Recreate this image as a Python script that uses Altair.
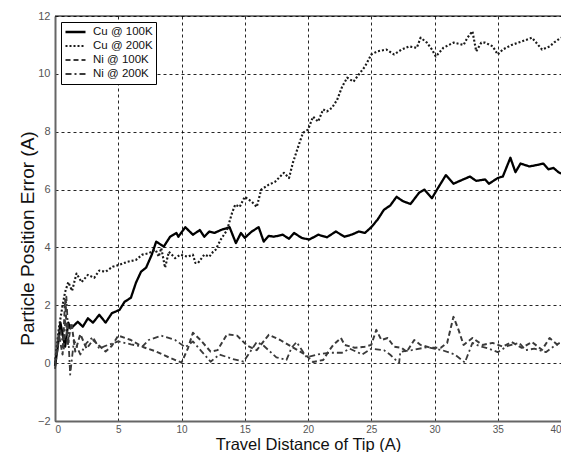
import altair as alt
import pandas as pd

series_names = ["Cu @ 100K", "Cu @ 200K", "Ni @ 100K", "Ni @ 200K"]

cu100 = [(0,-0.1),(0.2,0.5),(0.43,1.4),(0.6,1.0),(0.8,0.57),(1.05,1.4),(1.2,1.2),(1.4,1.26),(1.8,1.43),(2.2,1.26),(2.6,1.55),(3.0,1.4),(3.5,1.67),(4.0,1.4),(4.5,1.73),(5.1,1.84),(5.5,2.12),(6.0,2.26),(6.4,2.78),(6.8,3.16),(7.2,3.3),(7.65,3.75),(8.0,4.2),(8.6,4.03),(9.1,4.37),(9.6,4.5),(9.75,4.37),(10.3,4.7),(10.9,4.44),(11.45,4.6),(11.8,4.37),(12.2,4.55),(12.6,4.5),(13.1,4.6),(13.8,4.7),(14.3,4.15),(14.7,4.5),(15.0,4.33),(15.55,4.55),(16.1,4.7),(16.5,4.2),(16.9,4.4),(17.3,4.37),(18.0,4.44),(18.5,4.3),(18.9,4.5),(19.5,4.33),(20.1,4.27),(20.8,4.44),(21.5,4.35),(22.2,4.55),(22.9,4.37),(23.5,4.45),(24.0,4.55),(24.5,4.5),(25.0,4.7),(25.5,4.96),(26.0,5.3),(26.5,5.45),(27.0,5.75),(27.5,5.6),(28.1,5.5),(28.8,5.9),(29.2,6.0),(29.8,5.7),(30.2,6.0),(30.9,6.5),(31.5,6.2),(32.0,6.3),(32.8,6.45),(33.3,6.3),(34.0,6.35),(34.3,6.2),(35.0,6.4),(35.4,6.45),(36.0,7.1),(36.4,6.6),(36.8,6.9),(37.5,6.8),(38.1,6.85),(38.6,6.9),(39.0,6.7),(39.4,6.75),(39.8,6.6),(40.0,6.55)]

cu200 = [(0,0.0),(0.3,1.2),(0.6,2.0),(0.8,2.46),(1.05,2.8),(1.35,2.5),(1.7,3.1),(2.1,2.8),(2.6,3.05),(3.1,2.95),(3.5,3.2),(4.0,3.16),(4.55,3.33),(5.1,3.4),(5.7,3.5),(6.4,3.57),(6.9,3.75),(7.4,3.8),(7.95,3.92),(8.2,3.68),(8.4,3.98),(8.7,3.3),(9.0,3.85),(9.5,3.63),(9.9,3.75),(10.5,3.68),(10.9,3.75),(11.1,3.46),(11.3,3.46),(11.8,3.75),(12.2,3.68),(12.5,3.85),(12.7,3.92),(13.1,4.27),(13.6,4.6),(14.0,5.2),(14.25,5.48),(14.6,5.4),(15.0,5.75),(15.55,5.58),(15.95,5.4),(16.3,6.0),(16.9,6.17),(17.4,6.27),(17.8,6.45),(18.1,6.58),(18.5,6.4),(18.8,6.92),(19.2,7.45),(19.6,7.96),(20.0,8.07),(20.4,8.52),(20.8,8.35),(21.2,8.77),(21.5,8.7),(21.9,8.83),(22.3,9.1),(22.7,9.56),(23.1,9.87),(23.6,9.73),(24.0,9.97),(24.5,10.25),(25.0,10.67),(25.5,10.78),(26.2,10.84),(26.8,10.67),(27.4,10.84),(28.0,10.95),(28.6,10.9),(28.9,11.25),(29.4,11.08),(29.8,10.84),(30.1,10.6),(30.7,10.9),(31.5,11.08),(32.3,11.0),(32.6,11.25),(33.0,11.47),(33.3,10.78),(33.7,11.08),(34.0,11.08),(34.6,10.95),(35.0,10.67),(35.4,10.84),(36.1,11.0),(36.9,11.12),(37.7,11.25),(38.1,11.05),(38.5,10.84),(39.1,10.95),(39.5,11.1),(40.0,11.25)]

ni100 = [(0,0.0),(0.3,1.0),(0.6,0.3),(0.8,2.2),(1.0,0.6),(1.3,1.4),(1.6,0.4),(2.0,1.0),(2.5,0.5),(3.0,0.8),(3.5,0.6),(4.0,0.4),(4.5,0.6),(5.0,0.95),(6.0,0.8),(7.0,0.55),(8.0,0.4),(9.0,0.2),(10.0,0.02),(10.5,0.5),(10.9,1.05),(11.5,0.8),(12.3,0.4),(12.85,0.45),(13.6,1.0),(14.4,0.95),(15.2,0.6),(15.95,0.45),(16.9,0.98),(17.8,0.8),(18.7,0.57),(19.8,0.29),(20.4,0.04),(21.2,0.11),(21.6,0.39),(22.0,0.63),(22.6,0.87),(22.9,0.63),(23.7,0.53),(24.5,0.57),(25.0,0.63),(25.4,1.15),(25.8,0.8),(26.3,0.87),(26.8,0.57),(27.4,0.53),(27.8,0.39),(28.4,0.8),(28.9,0.63),(29.7,0.53),(30.5,0.53),(31.0,0.7),(31.5,1.6),(31.9,1.15),(32.3,0.63),(33.0,0.87),(33.8,0.63),(34.6,0.7),(35.4,0.57),(36.1,0.73),(36.9,0.53),(37.7,0.73),(38.5,0.46),(39.1,0.87),(39.9,0.57)]

ni200 = [(0,-0.2),(0.4,1.2),(0.7,0.5),(0.9,2.3),(1.2,-0.4),(1.5,0.8),(2.0,0.3),(2.5,0.7),(3.0,0.9),(3.5,0.5),(4.0,0.6),(5.0,0.75),(6.0,0.65),(6.9,0.57),(7.4,0.8),(8.4,0.95),(9.5,0.8),(10.3,0.55),(10.9,0.75),(11.6,0.4),(12.3,0.05),(13.0,0.3),(14.0,0.15),(14.9,0.05),(15.95,0.73),(16.5,0.6),(17.5,0.2),(18.3,0.11),(18.7,0.53),(19.1,0.73),(19.9,0.2),(20.8,0.3),(21.7,0.36),(22.7,0.36),(23.3,0.5),(24.3,0.3),(25.0,0.5),(26.0,0.45),(26.5,0.29),(27.2,0.0),(27.3,0.39),(28.2,0.45),(29.4,0.55),(30.6,0.45),(31.6,0.3),(32.4,0.02),(33.0,0.7),(33.5,0.6),(34.3,0.5),(35.0,0.38),(35.8,0.6),(36.7,0.7),(37.2,0.45),(37.9,0.5),(38.8,0.38),(39.5,0.6),(39.9,0.7)]

x_ticks = [0, 5, 10, 15, 20, 25, 30, 35, 40]
y_ticks = [-2, 0, 2, 4, 6, 8, 10, 12]

rows = []
for name, pts in zip(series_names, [cu100, cu200, ni100, ni200]):
    for i, (x, y) in enumerate(pts):
        rows.append({"series": name, "x": x, "y": y, "order": i})
df = pd.DataFrame(rows)

W, H = 506, 405

xs = alt.Scale(domain=[0, 40], nice=False, zero=False)
ys = alt.Scale(domain=[-2, 12], nice=False, zero=False)

lines = alt.Chart(df).mark_line(strokeJoin="round").encode(
    x=alt.X("x:Q", scale=xs, axis=alt.Axis(
        values=x_ticks, title="Travel Distance of Tip (A)", grid=True,
        gridDash=[3, 3], gridColor="#000", gridOpacity=0.85, gridWidth=1,
        ticks=False, domainColor="#666", domainWidth=2,
        labelColor="#555", labelFontSize=10, labelPadding=3, labelFont="Liberation Sans",
        titleFont="Liberation Sans", titleFontSize=16.5, titleFontWeight="normal",
        titleColor="#111", titleY=28, titleBaseline="alphabetic")),
    y=alt.Y("y:Q", scale=ys, axis=alt.Axis(
        values=y_ticks, title="Particle Position Error (A)", grid=True,
        gridDash=[3, 3], gridColor="#000", gridOpacity=0.85, gridWidth=1,
        ticks=False, domainColor="#666", domainWidth=2,
        labelColor="#555", labelFontSize=11, labelPadding=5, labelFont="Liberation Sans",
        titleFont="Liberation Sans", titleFontSize=19, titleFontWeight="normal",
        titleColor="#111", titleX=-22, titleY=222, titleBaseline="alphabetic")),
    color=alt.Color("series:N", scale=alt.Scale(domain=series_names,
                    range=["#000000", "#1a1a1a", "#3a3a3a", "#3a3a3a"]),
                    legend=alt.Legend(title=None, orient="none", legendX=6, legendY=6,
                                      symbolType="stroke", symbolSize=400, symbolStrokeWidth=2,
                                      labelFont="Liberation Sans", labelFontSize=11.5,
                                      labelColor="#111", padding=3, rowPadding=0,
                                      clipHeight=14,
                                      labelOffset=6, strokeColor="#000", fillColor="#fff",
                                      cornerRadius=0)),
    strokeDash=alt.StrokeDash("series:N", scale=alt.Scale(domain=series_names,
                    range=[[1, 0], [2, 2], [5, 3], [6, 3, 2, 3]]),
                    legend=alt.Legend(title=None, orient="none", legendX=6, legendY=6)),
    strokeWidth=alt.StrokeWidth("series:N", scale=alt.Scale(domain=series_names,
                    range=[2.3, 1.8, 1.8, 1.8]), legend=None),
    order="order:Q",
)

top_rule = alt.Chart(pd.DataFrame({"a": [0]})).mark_rule(color="#000", strokeWidth=1).encode(
    x=alt.datum(0, scale=xs), x2=alt.datum(40), y=alt.datum(12, scale=ys))

chart = alt.layer(lines, top_rule).properties(
    width=W, height=H,
    autosize=alt.AutoSizeParams(type="none"),
    padding={"left": 47, "top": 8, "right": 0, "bottom": 31},
).configure_view(stroke=None).configure(background="#ffffff")

chart.save("out.html", embed_options={"renderer": "svg", "actions": False})
